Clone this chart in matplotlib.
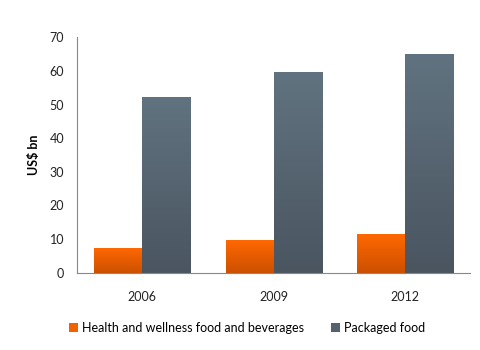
import matplotlib.pyplot as plt
import numpy as np
from matplotlib.patches import Patch

plt.rcParams['font.family'] = ['Lato', 'DejaVu Sans']

years = ['2006', '2009', '2012']
health = [7.3, 9.7, 11.5]
packaged = [52.4, 59.6, 65.2]
labels = ['Health and wellness food and beverages', 'Packaged food']

fig = plt.figure(figsize=(4.8, 3.5), dpi=100)
ax = fig.add_axes([0.16, 0.221, 0.82, 0.672])

x = np.arange(len(years))
w = 0.366


def grad_bars(xs, vals, top, bottom):
    bars = ax.bar(xs, vals, w, color='none')
    cmap = plt.matplotlib.colors.LinearSegmentedColormap.from_list('g', [bottom, top])
    g = np.linspace(0, 1, 256).reshape(-1, 1)
    for b in bars:
        bx = b.get_x()
        im = ax.imshow(g, cmap=cmap, aspect='auto', origin='lower',
                       extent=[bx, bx + b.get_width(), 0, b.get_height()], zorder=2)
        im.set_clip_path(b)
    return bars


grad_bars(x - w / 2, health, '#ff6800', '#cc5000')
grad_bars(x + w / 2, packaged, '#617380', '#4a5560')

ax.set_xlim(-0.5, 2.5)
ax.set_ylim(0, 70)
ax.set_yticks(range(0, 71, 10))
ax.set_xticks(x)
ax.set_xticklabels(years)
ax.tick_params(length=0, labelsize=9, colors='#222222')
ax.tick_params(axis='x', pad=13)
ax.tick_params(axis='y', pad=9)
for s in ['top', 'right']:
    ax.spines[s].set_visible(False)
for s in ['left', 'bottom']:
    ax.spines[s].set_color('#888888')
ax.set_ylabel('US$ bn', fontsize=9, fontweight='bold', labelpad=7)

handles = [Patch(facecolor='#f26000'), Patch(facecolor='#56626b')]
fig.legend(handles, labels, loc='center', bbox_to_anchor=(0.515, 0.063), ncol=2,
           frameon=False, fontsize=9, handlelength=0.7, handleheight=0.7,
           handletextpad=0.3, columnspacing=2.2)

fig.savefig('out.png', dpi=100)
